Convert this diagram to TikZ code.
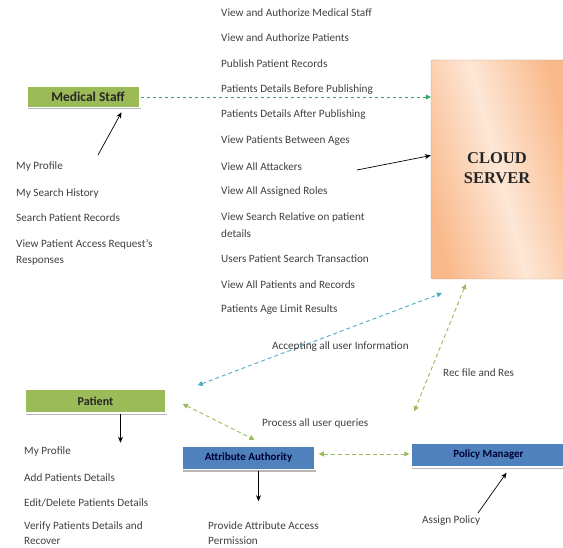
\documentclass[tikz,border=0pt]{standalone}
\usepackage{fontspec}
\setmainfont{Carlito}
\newfontfamily\cloudfont{Liberation Serif}
\usetikzlibrary{arrows.meta,calc,shadows}
\definecolor{boxgreen}{HTML}{9BBB59}
\definecolor{boxblue}{HTML}{4F81BD}
\definecolor{dashgreen}{HTML}{2EA868}
\definecolor{olivedash}{HTML}{9BBB59}
\definecolor{cyandash}{HTML}{4BACC6}
\definecolor{txt}{HTML}{404040}
\definecolor{peach}{HTML}{F9B98A}
\definecolor{peachlight}{HTML}{FDE7D6}
\tikzset{
  item/.style={anchor=west,inner sep=0pt,text=txt,font=\fontsize{11.2}{13}\selectfont},
  actor/.style={draw=white,line width=1.5pt,inner sep=0pt,font=\bfseries\fontsize{11}{13}\selectfont,text=black!85,
    drop shadow={shadow xshift=0.5pt,shadow yshift=-2pt,fill=black!35,opacity=0.8}},
  greenbox/.style={actor,fill=boxgreen},
  bluebox/.style={actor,fill=boxblue,text=black!80!blue},
  solidarrow/.style={-{Stealth[length=6pt,width=5pt]},line width=0.7pt,black},
  gdash/.style={dash pattern=on 3pt off 3pt,line width=0.8pt,draw=dashgreen,-{Triangle[length=5pt,width=5pt]}},
  odash/.style={dash pattern=on 4pt off 3pt,line width=0.9pt,draw=olivedash,{Triangle[length=5pt,width=5pt]}-{Triangle[length=5pt,width=5pt]}},
  cdash/.style={dash pattern=on 4pt off 3pt,line width=0.9pt,draw=cyandash,{Triangle[length=5pt,width=5pt]}-{Triangle[length=5pt,width=5pt]}},
}
\begin{document}
\begin{tikzpicture}[x=1pt,y=-1pt]
\useasboundingbox (0,0) rectangle (563,548);
% boxes
\node[greenbox,minimum width=113pt,minimum height=21pt,font=\bfseries\fontsize{13.5}{15}\selectfont] (med) at (83.5,97) {\hspace*{9pt}Medical Staff};
\node[greenbox,minimum width=141pt,minimum height=24pt,font=\bfseries\fontsize{12}{14}\selectfont] (pat) at (95.5,401) {Patient};
\node[bluebox,minimum width=133pt,minimum height=23pt] (attr) at (248.5,458) {Attribute Authority};
\node[bluebox,minimum width=155pt,minimum height=24pt] (pol) at (488.5,455) {Policy Manager};
\node[draw=peach!80!black,line width=0.4pt,rounded corners=1.5pt,minimum width=134pt,minimum height=219pt,inner sep=0pt,
  left color=peach,right color=peach,middle color=peachlight,shading angle=105] (cloud) at (498,169.5) {};
\node[align=center,font=\cloudfont\bfseries\fontsize{16.5}{20}\selectfont,text=black!85] (cloudlbl) at (497,168) {CLOUD\\SERVER};
% connectors
\draw[gdash] (med.east) -- (med.east -| cloud.west);
\coordinate (mpstart) at (98,155);
\draw[solidarrow] (mpstart) -- ($(med.south)+(38,4)$);
\coordinate (attstart) at (357,170);
\draw[solidarrow] (attstart) -- ($(cloud.west)+(0,-14)$);
\draw[cdash] ($(pat.north east)+(31,-3)$) -- ($(cloud.south west)+(11,14)$);
\draw[odash] ($(cloud.south west)+(35,5)$) -- ($(pol.north west)+(4,-31)$);
\draw[odash] ($(pat.east)+(16,3)$) -- ($(attr.north)+(6,-6)$);
\draw[odash] ($(attr.east)+(3,-4)$) -- ($(pol.west)+(-1,-1)$);
\draw[solidarrow] ($(pat.south)+(25,0)$) -- ++(0,29);
\draw[solidarrow] ($(attr.south)+(10,1)$) -- ++(0,30);
\coordinate (apstart) at (478,513);
\draw[solidarrow] (apstart) -- ($(pol.south)+(18,5)$);
% left list
\node[item] (l1) at (16,167) {My Profile};
\node[item] (l2) at (16,194) {My Search History};
\node[item] (l3) at (16,218) {Search Patient Records};
\node[item] (l4) at (16,244) {View Patient Access Request's};
\node[item] (l5) at (16,261) {Responses};
% middle list
\node[item] (m1) at (221,13) {View and Authorize Medical Staff};
\node[item] (m2) at (221,38) {View and Authorize Patients};
\node[item] (m3) at (221,64) {Publish Patient Records};
\node[item,fill=white,inner xsep=7pt,xshift=-7pt] (m4) at (221,90) {Patients Details Before Publishing};
\node[item] (m5) at (221,115) {Patients Details After Publishing};
\node[item] (m6) at (221,141) {View Patients Between Ages};
\node[item] (m7) at (221,167) {View All Attackers};
\node[item] (m8) at (221,192) {View All Assigned Roles};
\node[item] (m9) at (221,218) {View Search Relative on patient};
\node[item] (m10) at (221,234) {details};
\node[item] (m11) at (221,259) {Users Patient Search Transaction};
\node[item] (m12) at (221,285) {View All Patients and Records};
\node[item] (m13) at (221,310) {Patients Age Limit Results};
% connector labels
\node[item] (acc) at (272,347) {Accepting all user Information};
\node[item] (rec) at (443,373) {Rec file and Res};
\node[item] (proc) at (262,424) {Process all user queries};
% patient list
\node[item] (p1) at (24,452) {My Profile};
\node[item] (p2) at (24,478) {Add Patients Details};
\node[item] (p3) at (24,503) {Edit/Delete Patients Details};
\node[item] (p4) at (24,527) {Verify Patients Details and};
\node[item] (p5) at (24,541) {Recover};
% bottom
\node[item] (a1) at (208,526) {Provide Attribute Access};
\node[item] (a2) at (208,541) {Permission};
\node[item] (ap) at (422,521) {Assign Policy};
\end{tikzpicture}
\end{document}
